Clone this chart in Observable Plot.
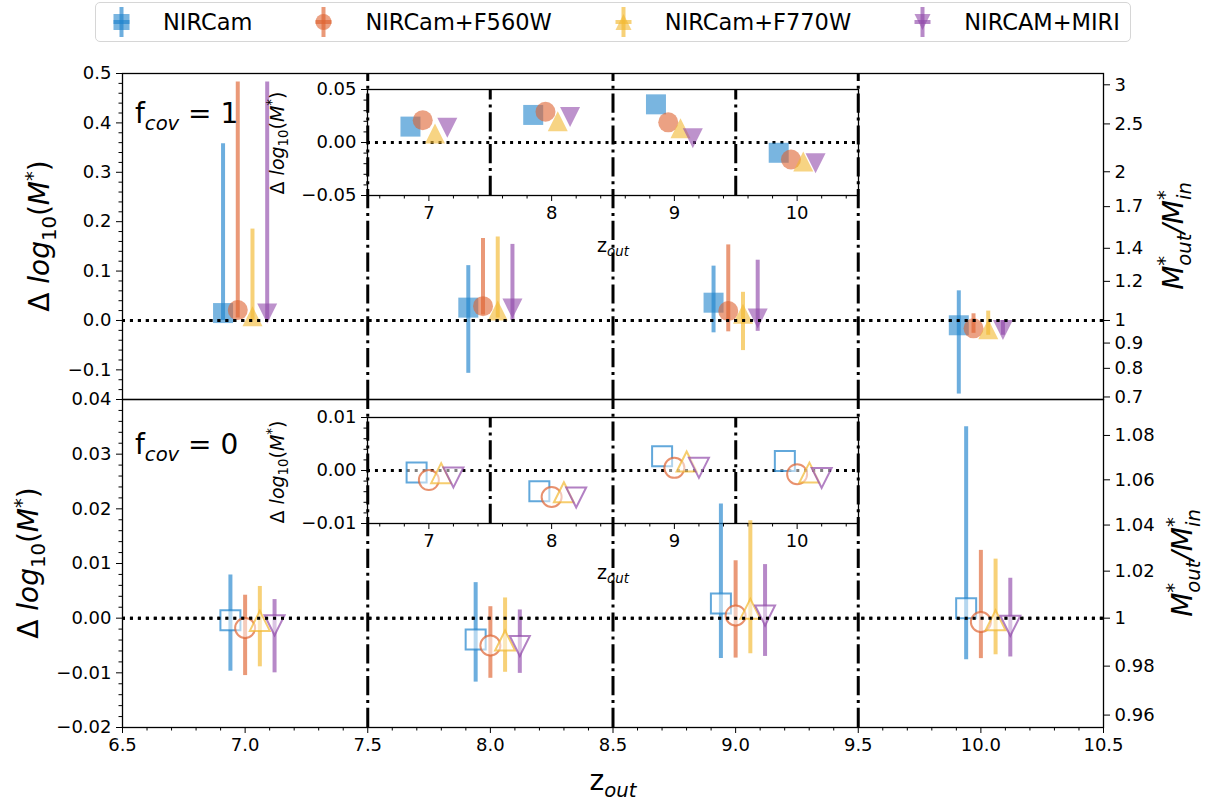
<!DOCTYPE html>
<html><head><meta charset="utf-8">
<script src="https://cdn.jsdelivr.net/npm/d3@7"></script>
<script src="https://cdn.jsdelivr.net/npm/@observablehq/plot@0.6"></script>
<style>
html,body{margin:0;padding:0;overflow:hidden;background:white;font-family:"DejaVu Sans",sans-serif;}
#wrap{position:relative;width:1217px;height:800px;}
.abs{position:absolute;white-space:nowrap;color:black;line-height:1;}
.rot{transform:translate(-50%,-50%) rotate(-90deg);}
.ctr{transform:translate(-50%,-50%);}
.it{font-style:italic;}
sub,sup{font-size:0.7em;line-height:0;}
.ss{display:inline-block;vertical-align:-0.42em;font-size:0.7em;line-height:1.0;text-align:left;}
.ss span{display:block;}
#legend{position:absolute;left:95px;top:2px;height:38px;border:1.5px solid #d6d6d6;border-radius:5px;display:flex;align-items:center;padding:0 10px 0 3px;font-size:22.5px;background:white;}
.li{display:flex;align-items:center;margin-right:49px;}
.li:last-child{margin-right:0;}
.li span{margin-left:19px;}
</style></head><body><div id="wrap"></div>
<script>
// ---------------- data ----------------
const redshifts = [7, 8, 9, 10];
const series = ["NIRCam", "NIRCam+F560W", "NIRCam+F770W", "NIRCAM+MIRI"];
const colors = ["#1f83cc", "#de6230", "#f2b830", "#914aaa"];

// x offsets of each series (main panels / insets)
const offsetTopMain = [-0.09, -0.03, 0.03, 0.09];
const offsetTopInset = [-0.15, -0.05, 0.05, 0.15];
const offsetBottomMain = [-0.06, 0.0, 0.06, 0.12];
const offsetBottomInset = [-0.1, 0.0, 0.1, 0.2];

// f_cov = 1 : Delta log10(M*) per series (rows) and redshift (cols)
const topValues = [
  [0.015, 0.026, 0.036, -0.0097],
  [0.021, 0.029, 0.019, -0.016],
  [0.0085, 0.020, 0.0135, -0.018],
  [0.014, 0.024, 0.004, -0.0195]
];
const topHigh = [
  [0.358, 0.111, 0.110, 0.060],
  [0.483, 0.166, 0.153, 0.0135],
  [0.185, 0.169, 0.057, 0.019],
  [0.483, 0.154, 0.122, 0.0]
];
const topLow = [
  [0.0, -0.107, -0.025, -0.149],
  [0.005, 0.011, -0.023, -0.026],
  [0.0, 0.005, -0.061, -0.030],
  [0.0, 0.0, -0.022, -0.030]
];

// f_cov = 0
const bottomValues = [
  [-0.0004, -0.0039, 0.0027, 0.0018],
  [-0.0018, -0.0050, 0.0005, -0.0007],
  [-0.0005, -0.0041, 0.0017, -0.0004],
  [-0.0013, -0.0051, 0.0005, -0.0014]
];
const bottomHigh = [
  [0.0079, 0.0065, 0.0209, 0.035],
  [0.0042, 0.0021, 0.0105, 0.0124],
  [0.0058, 0.0037, 0.0178, 0.0108],
  [0.0034, 0.0015, 0.0098, 0.0073]
];
const bottomLow = [
  [-0.0097, -0.0117, -0.0074, -0.0076],
  [-0.0105, -0.0110, -0.0073, -0.0074],
  [-0.0089, -0.0099, -0.0065, -0.0067],
  [-0.0100, -0.0101, -0.0070, -0.0071]
];

// ticks
const xMainTicks = [6.5, 7.0, 7.5, 8.0, 8.5, 9.0, 9.5, 10.0, 10.5];
const xInsetTicks = [7, 8, 9, 10];
const yTopTicks = [-0.1, 0.0, 0.1, 0.2, 0.3, 0.4, 0.5];
const yBottomTicks = [-0.02, -0.01, 0.0, 0.01, 0.02, 0.03, 0.04];
const yTopInsetTicks = [-0.05, 0.0, 0.05];
const yBottomInsetTicks = [-0.01, 0.0, 0.01];
const ratioTopTicks = [0.7, 0.8, 0.9, 1, 1.2, 1.4, 1.7, 2, 2.5, 3];
const ratioBottomTicks = [0.96, 0.98, 1, 1.02, 1.04, 1.06, 1.08];
const zoneEdges = [7.5, 8.5, 9.5];
const insetZoneEdges = [7.5, 9.5];

// ---------------- helpers ----------------
function rows(values, offsets, low, high) {
  const out = [];
  series.forEach((s, i) => redshifts.forEach((z, j) => {
    out.push({series: s, x: z + offsets[i], y: values[i][j],
      lo: low ? low[i][j] : null, hi: high ? high[i][j] : null});
  }));
  return out;
}
function minor(a, b, step, majorStep) {
  const n = Math.round((b - a) / step);
  const out = [];
  for (let k = 0; k <= n; k++) {
    const v = +(a + k * step).toFixed(6);
    const q = v / majorStep;
    if (Math.abs(q - Math.round(q)) > 1e-6) out.push(v);
  }
  return out;
}
const sq = {draw(c, s) { const r = Math.sqrt(s / Math.PI); c.moveTo(-r, -r); c.lineTo(r, -r); c.lineTo(r, r); c.lineTo(-r, r); c.closePath(); }};
const circ = {draw(c, s) { const r = Math.sqrt(s / Math.PI); c.moveTo(r, 0); c.arc(0, 0, r, 0, 2 * Math.PI); c.closePath(); }};
const triUp = {draw(c, s) { const r = Math.sqrt(s / Math.PI); c.moveTo(0, -r); c.lineTo(r, r); c.lineTo(-r, r); c.closePath(); }};
const triDown = {draw(c, s) { const r = Math.sqrt(s / Math.PI); c.moveTo(0, r); c.lineTo(r, -r); c.lineTo(-r, -r); c.closePath(); }};
const symbols = [sq, circ, triUp, triDown];

const fmt1 = d3.format(".1f"), fmt2 = d3.format(".2f");
const fmtRatio = d => String(+Math.pow(10, d).toFixed(3));
const FS = 18;
const baseStyle = {position: "absolute", left: "0px", top: "0px", background: "transparent", overflow: "visible", fontFamily: "DejaVu Sans", fontSize: FS + "px", color: "black"};
const dotted = {stroke: "black", strokeWidth: 3, strokeDasharray: "3,4.95"};
const dashdot = {stroke: "black", strokeWidth: 3, strokeDasharray: "19.2,4.8,3,4.8"};

function dotsMark(data, filled) {
  return filled
    ? Plot.dot(data, {x: "x", y: "y", symbol: "series", fill: "series", fillOpacity: 0.6, stroke: "none", r: 10})
    : Plot.dot(data, {x: "x", y: "y", symbol: "series", stroke: "series", strokeWidth: 2, strokeOpacity: 0.7, fill: "white", fillOpacity: 0.5, r: 10});
}

function mainPanel({data, ydom, height, mt, mb, yMajor, yMinorStep, yMajorStep, yFmt, ratioTicks, filled, xAxis}) {
  const marks = [
    Plot.ruleY([0], dotted),
    Plot.ruleX(zoneEdges, {x: d => d, y1: ydom[0], y2: ydom[1], ...dashdot}),
    Plot.ruleX(data, {x: "x", y1: "lo", y2: "hi", stroke: "series", strokeWidth: 4, strokeOpacity: 0.65}),
    dotsMark(data, filled),
    Plot.ruleY([0], dotted),
    Plot.axisY(yMajor, {anchor: "left", tickSize: 6, tickPadding: 5, tickFormat: yFmt, fontSize: FS, label: null}),
    Plot.axisY(minor(ydom[0], ydom[1], yMinorStep, yMajorStep), {anchor: "left", tickSize: 3.5, tickFormat: () => "", label: null}),
    Plot.axisY(ratioTicks.map(Math.log10), {anchor: "right", tickSize: 6, tickPadding: 5, tickFormat: fmtRatio, fontSize: FS, label: null}),
    Plot.frame({stroke: "black", strokeWidth: 1.3})
  ];
  if (xAxis) {
    marks.push(Plot.axisX(xMainTicks, {anchor: "bottom", tickSize: 6, tickPadding: 5, tickFormat: fmt1, fontSize: FS, label: null}));
    marks.push(Plot.axisX(minor(6.5, 10.5, 0.1, 0.5), {anchor: "bottom", tickSize: 3.5, tickFormat: () => "", label: null}));
  }
  return Plot.plot({
    width: 1217, height, marginLeft: 122, marginRight: 114, marginTop: mt, marginBottom: mb,
    x: {domain: [6.5, 10.5], axis: null},
    y: {domain: ydom, axis: null},
    color: {domain: series, range: colors},
    symbol: {domain: series, range: symbols},
    style: baseStyle,
    marks
  });
}

function insetPanel({data, ydom, height, mt, mb, yMajor, yMinorStep, yMajorStep, filled}) {
  return Plot.plot({
    width: 1217, height, marginLeft: 367, marginRight: 359, marginTop: mt, marginBottom: mb,
    x: {domain: [6.5, 10.5], axis: null},
    y: {domain: ydom, axis: null},
    color: {domain: series, range: colors},
    symbol: {domain: series, range: symbols},
    style: baseStyle,
    marks: [
      Plot.frame({fill: "white", stroke: "none"}),
      Plot.ruleY([0], dotted),
      Plot.ruleX(insetZoneEdges, {x: d => d, y1: ydom[0], y2: ydom[1], ...dashdot}),
      dotsMark(data, filled),
      Plot.axisX(xInsetTicks, {anchor: "bottom", tickSize: 6, tickPadding: 5, tickFormat: d => String(d), fontSize: FS, label: null}),
      Plot.axisX(minor(6.6, 10.4, 0.2, 1), {anchor: "bottom", tickSize: 3.5, tickFormat: () => "", label: null}),
      Plot.axisY(yMajor, {anchor: "left", tickSize: 6, tickPadding: 5, tickFormat: fmt2, fontSize: FS, label: null}),
      Plot.axisY(minor(ydom[0], ydom[1], yMinorStep, yMajorStep), {anchor: "left", tickSize: 3.5, tickFormat: () => "", label: null}),
      Plot.frame({stroke: "black", strokeWidth: 1.3})
    ]
  });
}

const wrap = document.getElementById("wrap");

// insets first: the main panels' error bars and zone lines are drawn above them
wrap.append(insetPanel({
  data: rows(topValues, offsetTopInset),
  ydom: [-0.05, 0.05], height: 260, mt: 89, mb: 65,
  yMajor: yTopInsetTicks, yMinorStep: 0.01, yMajorStep: 0.05, filled: true
}));
wrap.append(insetPanel({
  data: rows(bottomValues, offsetBottomInset),
  ydom: [-0.01, 0.01], height: 600, mt: 417, mb: 77,
  yMajor: yBottomInsetTicks, yMinorStep: 0.002, yMajorStep: 0.01, filled: false
}));
wrap.append(mainPanel({
  data: rows(topValues, offsetTopMain, topLow, topHigh),
  ydom: [-0.16, 0.5], height: 400, mt: 73, mb: 1,
  yMajor: yTopTicks, yMinorStep: 0.02, yMajorStep: 0.1, yFmt: fmt1,
  ratioTicks: ratioTopTicks, filled: true, xAxis: false
}));
wrap.append(mainPanel({
  data: rows(bottomValues, offsetBottomMain, bottomLow, bottomHigh),
  ydom: [-0.02, 0.04], height: 800, mt: 399, mb: 73,
  yMajor: yBottomTicks, yMinorStep: 0.002, yMajorStep: 0.01, yFmt: fmt2,
  ratioTicks: ratioBottomTicks, filled: false, xAxis: true
}));

// ---------------- text ----------------
const dlog = '&Delta; <span class="it">log</span><sub>10</sub>(<span class="it">M</span><sup>*</sup>)';
const ratioLabel = '<span class="it">M</span><span class="ss"><span>*</span><span class="it">out</span></span><span class="it">/M</span><span class="ss"><span>*</span><span class="it">in</span></span>';
const zout = 'z<sub class="it">out</sub>';
function addText(html, x, y, size, cls) {
  const d = document.createElement("div");
  d.className = "abs " + cls;
  d.style.left = x + "px"; d.style.top = y + "px"; d.style.fontSize = size + "px";
  d.innerHTML = html;
  wrap.append(d);
}
addText(dlog, 40, 236, 28, "rot");
addText(dlog, 29, 563, 28, "rot");
addText(ratioLabel, 1175, 236, 28, "rot");
addText(ratioLabel, 1184, 563, 28, "rot");
addText(dlog, 277, 143, 19, "rot");
addText(dlog, 277, 472, 19, "rot");
addText(zout, 613, 245, 19, "ctr");
addText(zout, 613, 572, 19, "ctr");
addText(zout, 613, 781, 28, "ctr");
addText('f<sub class="it">cov</sub> = 1', 135, 100, 28, "");
addText('f<sub class="it">cov</sub> = 0', 135, 431, 28, "");

// ---------------- legend ----------------
const legend = document.createElement("div");
legend.id = "legend";
const shapes = [
  (c) => `<rect x="14.5" y="10" width="16" height="16" fill="${c}" fill-opacity="0.6"/>`,
  (c) => `<circle cx="22.5" cy="18" r="8" fill="${c}" fill-opacity="0.6"/>`,
  (c) => `<path d="M22.5,10L30.5,26L14.5,26Z" fill="${c}" fill-opacity="0.6"/>`,
  (c) => `<path d="M22.5,26L30.5,10L14.5,10Z" fill="${c}" fill-opacity="0.6"/>`
];
series.forEach((s, i) => {
  const item = document.createElement("div");
  item.className = "li";
  const c = colors[i];
  item.innerHTML = `<svg width="45" height="36">${shapes[i](c)}<line x1="22.5" x2="22.5" y1="3" y2="33" stroke="${c}" stroke-width="4" stroke-opacity="0.65"/><line x1="14.5" x2="30.5" y1="18" y2="18" stroke="${c}" stroke-width="4" stroke-opacity="0.65"/></svg><span>${s}</span>`;
  legend.append(item);
});
wrap.append(legend);
</script>
</body></html>
